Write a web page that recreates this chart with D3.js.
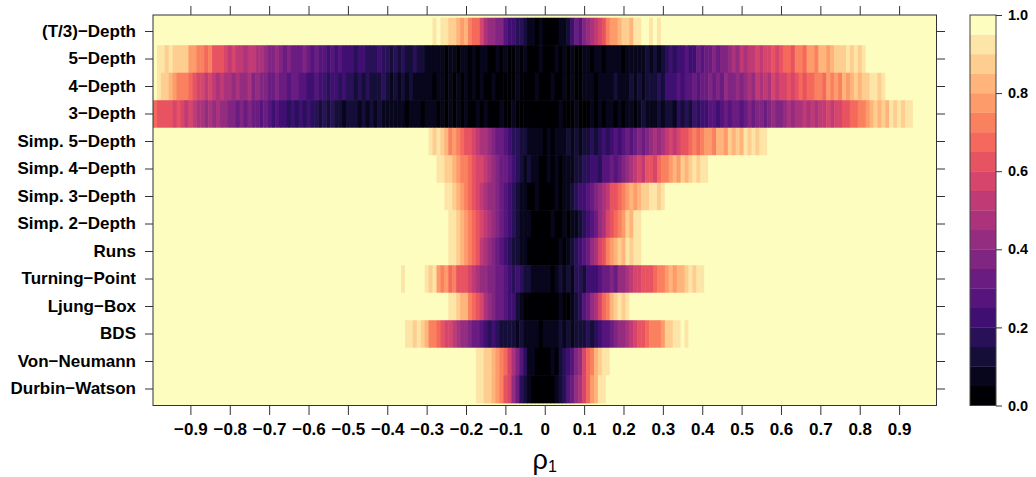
<!DOCTYPE html>
<html>
<head>
<meta charset="utf-8">
<script src="https://cdn.jsdelivr.net/npm/d3@7"></script>
<style>
  body { margin: 0; background: #fff; }
  svg text { font-family: 'Liberation Sans', Arial, Helvetica, sans-serif; }
</style>
</head>
<body>
<div id="chart"></div>
<script>
// row labels, top to bottom
const tests = [
    '(T/3)\u2212Depth', '5\u2212Depth', '4\u2212Depth', '3\u2212Depth',
    'Simp. 5\u2212Depth', 'Simp. 4\u2212Depth', 'Simp. 3\u2212Depth', 'Simp. 2\u2212Depth',
    'Runs', 'Turning\u2212Point', 'Ljung\u2212Box', 'BDS', 'Von\u2212Neumann', 'Durbin\u2212Watson'
]
// rho_1 grid: -0.99 .. 0.99 by 0.01
const rho = d3.range(-99, 100).map(i => i / 100)
const xTicks = [-0.9, -0.8, -0.7, -0.6, -0.5, -0.4, -0.3, -0.2, -0.1, 0, 0.1, 0.2, 0.3, 0.4, 0.5, 0.6, 0.7, 0.8, 0.9]
const legendTicks = [0, 0.2, 0.4, 0.6, 0.8, 1]

// one line per 0.1 of rho (-0.99..-0.90, ..., -0.09..0.00, 0.01..0.10, ..., 0.91..0.99)
const tDepth = [
    1, 1, 1, 1, 1, 1, 1, 1, 1, 1,
    1, 1, 1, 1, 1, 1, 1, 1, 1, 1,
    1, 1, 1, 1, 1, 1, 1, 1, 1, 1,
    1, 1, 1, 1, 1, 1, 1, 1, 1, 1,
    1, 1, 1, 1, 1, 1, 1, 1, 1, 1,
    1, 1, 1, 1, 1, 1, 1, 1, 1, 1,
    1, 1, 1, 1, 1, 1, 1, 1, 1, 1,
    1, .93, .97, .9, .92, .87, .85, .82, .76, .8,
    .7, .66, .67, .55, .46, .4, .42, .35, .36, .29,
    .22, .24, .17, .19, .11, .07, .05, .03, .05, .02,
    .03, .04, .02, .06, .08, .13, .24, .3, .28, .36,
    .4, .45, .52, .56, .63, .7, .76, .78, .81, .86,
    .88, .82, .9, .92, .97, .97, .9, .97, .93, 1,
    1, 1, 1, 1, 1, 1, 1, 1, 1, 1,
    1, 1, 1, 1, 1, 1, 1, 1, 1, 1,
    1, 1, 1, 1, 1, 1, 1, 1, 1, 1,
    1, 1, 1, 1, 1, 1, 1, 1, 1, 1,
    1, 1, 1, 1, 1, 1, 1, 1, 1, 1,
    1, 1, 1, 1, 1, 1, 1, 1, 1, 1,
    1, 1, 1, 1, 1, 1, 1, 1, 1
]
const depth5 = [
    1, .91, .9, .88, .9, .87, .86, .88, .85, .79,
    .78, .72, .7, .68, .71, .63, .6, .62, .55, .53,
    .55, .5, .52, .48, .53, .5, .45, .47, .42, .38,
    .36, .4, .35, .33, .38, .32, .34, .3, .36, .31,
    .28, .3, .25, .27, .22, .29, .24, .26, .2, .23,
    .21, .18, .24, .2, .17, .19, .15, .2, .16, .18,
    .14, .16, .12, .17, .13, .1, .15, .11, .12, .08,
    .06, .09, .05, .07, .04, .08, .06, .03, .05, .07,
    .04, .06, .03, .05, .08, .04, .02, .06, .03, .05,
    .04, .02, .05, .03, .06, .02, .04, .03, .05, .02,
    .04, .03, .06, .02, .05, .03, .07, .04, .03, .05,
    .06, .04, .08, .05, .03, .07, .05, .09, .06, .04,
    .06, .08, .05, .09, .07, .1, .08, .11, .09, .13,
    .18, .2, .16, .22, .2, .25, .21, .24, .3, .28,
    .33, .3, .36, .32, .38, .35, .4, .46, .43, .5,
    .48, .53, .5, .56, .52, .58, .55, .6, .57, .62,
    .66, .68, .64, .7, .72, .67, .76, .78, .74, .8,
    .82, .79, .84, .86, .88, .85, .9, .87, .91, .89,
    .93, .97, 1, 1, 1, 1, 1, 1, 1, 1,
    1, 1, 1, 1, 1, 1, 1, 1, 1
]
const depth4 = [
    1, .9, .88, .86, .82, .78, .74, .7, .72, .66,
    .6, .58, .55, .52, .56, .5, .48, .53, .45, .47,
    .44, .48, .42, .4, .45, .38, .41, .36, .39, .34,
    .32, .35, .3, .33, .28, .31, .3, .26, .29, .24,
    .22, .25, .2, .23, .18, .22, .2, .17, .21, .16,
    .18, .14, .17, .13, .16, .11, .14, .12, .15, .1,
    .09, .12, .08, .11, .06, .1, .07, .09, .05, .08,
    .06, .04, .08, .05, .03, .07, .04, .06, .03, .05,
    .03, .05, .02, .06, .04, .02, .05, .03, .04, .02,
    .04, .03, .05, .02, .04, .03, .02, .05, .03, .04,
    .02, .05, .03, .04, .06, .03, .05, .02, .04, .07,
    .05, .08, .04, .06, .09, .05, .07, .1, .06, .08,
    .08, .11, .07, .12, .09, .14, .1, .13, .16, .12,
    .2, .24, .21, .27, .23, .29, .26, .31, .28, .33,
    .3, .35, .32, .37, .34, .4, .36, .39, .42, .38,
    .44, .47, .43, .5, .46, .53, .49, .55, .52, .57,
    .55, .6, .58, .63, .66, .62, .68, .65, .7, .72,
    .68, .75, .72, .78, .74, .8, .77, .83, .86, .82,
    .88, .85, .9, .92, .89, .93, 1, 1, 1, 1,
    1, 1, 1, 1, 1, 1, 1, 1, 1
]
const depth3 = [
    .66, .62, .64, .6, .63, .58, .61, .56, .52, .55,
    .5, .46, .49, .44, .47, .42, .45, .4, .43, .39,
    .37, .34, .38, .32, .35, .3, .33, .28, .31, .26,
    .22, .26, .2, .24, .18, .22, .19, .22, .17, .2,
    .15, .18, .13, .17, .11, .15, .1, .14, .09, .12,
    .11, .14, .09, .13, .07, .12, .08, .1, .06, .09,
    .08, .05, .09, .06, .04, .08, .05, .07, .03, .06,
    .05, .08, .03, .06, .04, .07, .03, .05, .02, .06,
    .04, .02, .05, .03, .06, .02, .04, .03, .05, .02,
    .03, .05, .02, .04, .03, .02, .04, .03, .02, .03,
    .04, .02, .03, .05, .02, .04, .03, .05, .02, .04,
    .03, .06, .04, .07, .03, .05, .08, .04, .06, .03,
    .05, .08, .04, .07, .1, .06, .09, .05, .11, .08,
    .1, .14, .09, .15, .12, .17, .13, .2, .16, .24,
    .21, .26, .29, .23, .27, .31, .25, .3, .33, .28,
    .32, .36, .3, .35, .38, .33, .37, .4, .36, .39,
    .43, .46, .42, .48, .45, .5, .47, .52, .49, .54,
    .51, .56, .53, .58, .55, .6, .64, .67, .65, .7,
    .72, .78, .82, .85, .8, .87, .84, .9, .88, .92,
    .89, .93, .9, 1, 1, 1, 1, 1, 1
]
const simp5 = [
    1, 1, 1, 1, 1, 1, 1, 1, 1, 1,
    1, 1, 1, 1, 1, 1, 1, 1, 1, 1,
    1, 1, 1, 1, 1, 1, 1, 1, 1, 1,
    1, 1, 1, 1, 1, 1, 1, 1, 1, 1,
    1, 1, 1, 1, 1, 1, 1, 1, 1, 1,
    1, 1, 1, 1, 1, 1, 1, 1, 1, 1,
    1, 1, 1, 1, 1, 1, 1, 1, 1, 1,
    .92, .88, .93, .85, .8, .74, .78, .7, .66, .62,
    .6, .55, .52, .48, .45, .4, .36, .33, .3, .27,
    .2, .15, .18, .1, .12, .08, .06, .09, .05, .04,
    .06, .03, .07, .05, .08, .1, .06, .12, .09, .14,
    .11, .16, .13, .18, .2, .17, .23, .26, .21, .28,
    .3, .27, .33, .36, .31, .38, .42, .45, .4, .48,
    .52, .55, .5, .58, .62, .6, .65, .7, .67, .72,
    .75, .78, .74, .8, .83, .79, .85, .82, .88, .84,
    .9, .87, .92, .89, .93, .91, .97, 1, 1, 1,
    1, 1, 1, 1, 1, 1, 1, 1, 1, 1,
    1, 1, 1, 1, 1, 1, 1, 1, 1, 1,
    1, 1, 1, 1, 1, 1, 1, 1, 1, 1,
    1, 1, 1, 1, 1, 1, 1, 1, 1
]
const simp4 = [
    1, 1, 1, 1, 1, 1, 1, 1, 1, 1,
    1, 1, 1, 1, 1, 1, 1, 1, 1, 1,
    1, 1, 1, 1, 1, 1, 1, 1, 1, 1,
    1, 1, 1, 1, 1, 1, 1, 1, 1, 1,
    1, 1, 1, 1, 1, 1, 1, 1, 1, 1,
    1, 1, 1, 1, 1, 1, 1, 1, 1, 1,
    1, 1, 1, 1, 1, 1, 1, 1, 1, 1,
    1, 1, .93, .9, .88, .85, .82, .76, .72, .7,
    .66, .62, .58, .55, .5, .46, .42, .38, .34, .3,
    .27, .22, .17, .12, .08, .1, .05, .07, .04, .03,
    .05, .04, .06, .03, .07, .05, .08, .12, .1, .15,
    .18, .2, .22, .19, .25, .27, .3, .28, .33, .38,
    .42, .46, .5, .55, .52, .6, .63, .58, .66, .7,
    .73, .78, .8, .76, .85, .82, .88, .9, .87, .92,
    .93, .97, 1, 1, 1, 1, 1, 1, 1, 1,
    1, 1, 1, 1, 1, 1, 1, 1, 1, 1,
    1, 1, 1, 1, 1, 1, 1, 1, 1, 1,
    1, 1, 1, 1, 1, 1, 1, 1, 1, 1,
    1, 1, 1, 1, 1, 1, 1, 1, 1, 1,
    1, 1, 1, 1, 1, 1, 1, 1, 1
]
const simp3 = [
    1, 1, 1, 1, 1, 1, 1, 1, 1, 1,
    1, 1, 1, 1, 1, 1, 1, 1, 1, 1,
    1, 1, 1, 1, 1, 1, 1, 1, 1, 1,
    1, 1, 1, 1, 1, 1, 1, 1, 1, 1,
    1, 1, 1, 1, 1, 1, 1, 1, 1, 1,
    1, 1, 1, 1, 1, 1, 1, 1, 1, 1,
    1, 1, 1, 1, 1, 1, 1, 1, 1, 1,
    1, 1, 1, 1, .93, .9, .85, .8, .75, .72,
    .68, .62, .57, .52, .48, .44, .4, .35, .3, .26,
    .22, .16, .12, .08, .06, .04, .03, .05, .02, .03,
    .04, .02, .05, .03, .06, .09, .12, .16, .2, .24,
    .28, .32, .36, .42, .48, .54, .6, .64, .68, .72,
    .76, .8, .78, .84, .88, .86, .9, .92, .89, .93,
    .97, 1, 1, 1, 1, 1, 1, 1, 1, 1,
    1, 1, 1, 1, 1, 1, 1, 1, 1, 1,
    1, 1, 1, 1, 1, 1, 1, 1, 1, 1,
    1, 1, 1, 1, 1, 1, 1, 1, 1, 1,
    1, 1, 1, 1, 1, 1, 1, 1, 1, 1,
    1, 1, 1, 1, 1, 1, 1, 1, 1, 1,
    1, 1, 1, 1, 1, 1, 1, 1, 1
]
const simp2 = [
    1, 1, 1, 1, 1, 1, 1, 1, 1, 1,
    1, 1, 1, 1, 1, 1, 1, 1, 1, 1,
    1, 1, 1, 1, 1, 1, 1, 1, 1, 1,
    1, 1, 1, 1, 1, 1, 1, 1, 1, 1,
    1, 1, 1, 1, 1, 1, 1, 1, 1, 1,
    1, 1, 1, 1, 1, 1, 1, 1, 1, 1,
    1, 1, 1, 1, 1, 1, 1, 1, 1, 1,
    1, 1, 1, 1, 1, .93, .9, .87, .82, .78,
    .72, .68, .62, .56, .52, .46, .42, .36, .32, .26,
    .2, .15, .1, .07, .05, .08, .04, .03, .02, .04,
    .03, .05, .02, .04, .06, .03, .05, .08, .12, .16,
    .22, .28, .34, .4, .48, .56, .62, .68, .72, .78,
    .85, .82, .9, .93, 1, 1, 1, 1, 1, 1,
    1, 1, 1, 1, 1, 1, 1, 1, 1, 1,
    1, 1, 1, 1, 1, 1, 1, 1, 1, 1,
    1, 1, 1, 1, 1, 1, 1, 1, 1, 1,
    1, 1, 1, 1, 1, 1, 1, 1, 1, 1,
    1, 1, 1, 1, 1, 1, 1, 1, 1, 1,
    1, 1, 1, 1, 1, 1, 1, 1, 1, 1,
    1, 1, 1, 1, 1, 1, 1, 1, 1
]
const runs = [
    1, 1, 1, 1, 1, 1, 1, 1, 1, 1,
    1, 1, 1, 1, 1, 1, 1, 1, 1, 1,
    1, 1, 1, 1, 1, 1, 1, 1, 1, 1,
    1, 1, 1, 1, 1, 1, 1, 1, 1, 1,
    1, 1, 1, 1, 1, 1, 1, 1, 1, 1,
    1, 1, 1, 1, 1, 1, 1, 1, 1, 1,
    1, 1, 1, 1, 1, 1, 1, 1, 1, 1,
    1, 1, 1, 1, 1, .93, .9, .86, .8, .76,
    .7, .65, .6, .54, .48, .42, .38, .33, .28, .24,
    .19, .14, .1, .07, .05, .03, .04, .02, .03, .02,
    .03, .04, .02, .05, .03, .06, .1, .15, .2, .27,
    .33, .4, .48, .55, .62, .7, .75, .8, .86, .84,
    .9, .88, .93, .92, 1, 1, 1, 1, 1, 1,
    1, 1, 1, 1, 1, 1, 1, 1, 1, 1,
    1, 1, 1, 1, 1, 1, 1, 1, 1, 1,
    1, 1, 1, 1, 1, 1, 1, 1, 1, 1,
    1, 1, 1, 1, 1, 1, 1, 1, 1, 1,
    1, 1, 1, 1, 1, 1, 1, 1, 1, 1,
    1, 1, 1, 1, 1, 1, 1, 1, 1, 1,
    1, 1, 1, 1, 1, 1, 1, 1, 1
]
const turningPoint = [
    1, 1, 1, 1, 1, 1, 1, 1, 1, 1,
    1, 1, 1, 1, 1, 1, 1, 1, 1, 1,
    1, 1, 1, 1, 1, 1, 1, 1, 1, 1,
    1, 1, 1, 1, 1, 1, 1, 1, 1, 1,
    1, 1, 1, 1, 1, 1, 1, 1, 1, 1,
    1, 1, 1, 1, 1, 1, 1, 1, 1, 1,
    1, 1, 1, .93, 1, 1, 1, 1, 1, .92,
    .88, .9, .78, .72, .75, .68, .7, .64, .6, .62,
    .55, .52, .48, .44, .4, .36, .38, .32, .3, .26,
    .22, .18, .2, .15, .12, .1, .08, .06, .09, .05,
    .07, .04, .08, .1, .06, .12, .09, .15, .18, .14,
    .2, .24, .22, .28, .3, .33, .36, .32, .4, .44,
    .48, .5, .55, .58, .6, .64, .62, .68, .7, .74,
    .78, .8, .76, .84, .82, .87, .9, .88, .92, .93,
    .97, 1, 1, 1, 1, 1, 1, 1, 1, 1,
    1, 1, 1, 1, 1, 1, 1, 1, 1, 1,
    1, 1, 1, 1, 1, 1, 1, 1, 1, 1,
    1, 1, 1, 1, 1, 1, 1, 1, 1, 1,
    1, 1, 1, 1, 1, 1, 1, 1, 1, 1,
    1, 1, 1, 1, 1, 1, 1, 1, 1
]
const ljungBox = [
    1, 1, 1, 1, 1, 1, 1, 1, 1, 1,
    1, 1, 1, 1, 1, 1, 1, 1, 1, 1,
    1, 1, 1, 1, 1, 1, 1, 1, 1, 1,
    1, 1, 1, 1, 1, 1, 1, 1, 1, 1,
    1, 1, 1, 1, 1, 1, 1, 1, 1, 1,
    1, 1, 1, 1, 1, 1, 1, 1, 1, 1,
    1, 1, 1, 1, 1, 1, 1, 1, 1, 1,
    1, 1, 1, 1, 1, .93, .9, .87, .84, .8,
    .74, .68, .62, .55, .48, .42, .38, .34, .3, .27,
    .24, .2, .12, .06, .04, .03, .02, .04, .02, .03,
    .02, .04, .03, .05, .02, .04, .06, .1, .18, .25,
    .32, .4, .48, .56, .66, .72, .8, .85, .9, .88,
    .93, 1, 1, 1, 1, 1, 1, 1, 1, 1,
    1, 1, 1, 1, 1, 1, 1, 1, 1, 1,
    1, 1, 1, 1, 1, 1, 1, 1, 1, 1,
    1, 1, 1, 1, 1, 1, 1, 1, 1, 1,
    1, 1, 1, 1, 1, 1, 1, 1, 1, 1,
    1, 1, 1, 1, 1, 1, 1, 1, 1, 1,
    1, 1, 1, 1, 1, 1, 1, 1, 1, 1,
    1, 1, 1, 1, 1, 1, 1, 1, 1
]
const bds = [
    1, 1, 1, 1, 1, 1, 1, 1, 1, 1,
    1, 1, 1, 1, 1, 1, 1, 1, 1, 1,
    1, 1, 1, 1, 1, 1, 1, 1, 1, 1,
    1, 1, 1, 1, 1, 1, 1, 1, 1, 1,
    1, 1, 1, 1, 1, 1, 1, 1, 1, 1,
    1, 1, 1, 1, 1, 1, 1, 1, 1, 1,
    1, 1, 1, 1, .93, .9, .88, .92, .85, .8,
    .74, .7, .66, .62, .58, .55, .5, .47, .44, .4,
    .36, .33, .3, .26, .22, .19, .2, .16, .14, .12,
    .1, .13, .08, .11, .06, .09, .05, .07, .04, .06,
    .05, .08, .06, .1, .07, .12, .09, .11, .14, .1,
    .16, .13, .18, .22, .25, .28, .32, .36, .4, .44,
    .48, .52, .56, .6, .64, .67, .7, .74, .72, .78,
    .85, .88, .9, .93, .97, .92, 1, 1, 1, 1,
    1, 1, 1, 1, 1, 1, 1, 1, 1, 1,
    1, 1, 1, 1, 1, 1, 1, 1, 1, 1,
    1, 1, 1, 1, 1, 1, 1, 1, 1, 1,
    1, 1, 1, 1, 1, 1, 1, 1, 1, 1,
    1, 1, 1, 1, 1, 1, 1, 1, 1, 1,
    1, 1, 1, 1, 1, 1, 1, 1, 1
]
const vonNeumann = [
    1, 1, 1, 1, 1, 1, 1, 1, 1, 1,
    1, 1, 1, 1, 1, 1, 1, 1, 1, 1,
    1, 1, 1, 1, 1, 1, 1, 1, 1, 1,
    1, 1, 1, 1, 1, 1, 1, 1, 1, 1,
    1, 1, 1, 1, 1, 1, 1, 1, 1, 1,
    1, 1, 1, 1, 1, 1, 1, 1, 1, 1,
    1, 1, 1, 1, 1, 1, 1, 1, 1, 1,
    1, 1, 1, 1, 1, 1, 1, 1, 1, 1,
    1, 1, .93, .9, .88, .85, .82, .78, .72, .66,
    .58, .45, .35, .25, .15, .08, .05, .03, .02, .03,
    .03, .05, .04, .1, .16, .22, .28, .35, .42, .55,
    .65, .74, .82, .88, .9, .93, .97, 1, 1, 1,
    1, 1, 1, 1, 1, 1, 1, 1, 1, 1,
    1, 1, 1, 1, 1, 1, 1, 1, 1, 1,
    1, 1, 1, 1, 1, 1, 1, 1, 1, 1,
    1, 1, 1, 1, 1, 1, 1, 1, 1, 1,
    1, 1, 1, 1, 1, 1, 1, 1, 1, 1,
    1, 1, 1, 1, 1, 1, 1, 1, 1, 1,
    1, 1, 1, 1, 1, 1, 1, 1, 1, 1,
    1, 1, 1, 1, 1, 1, 1, 1, 1
]
const durbinWatson = [
    1, 1, 1, 1, 1, 1, 1, 1, 1, 1,
    1, 1, 1, 1, 1, 1, 1, 1, 1, 1,
    1, 1, 1, 1, 1, 1, 1, 1, 1, 1,
    1, 1, 1, 1, 1, 1, 1, 1, 1, 1,
    1, 1, 1, 1, 1, 1, 1, 1, 1, 1,
    1, 1, 1, 1, 1, 1, 1, 1, 1, 1,
    1, 1, 1, 1, 1, 1, 1, 1, 1, 1,
    1, 1, 1, 1, 1, 1, 1, 1, 1, 1,
    1, 1, .93, .92, .88, .86, .8, .75, .7, .64,
    .55, .44, .32, .18, .1, .05, .03, .02, .02, .01,
    .02, .04, .07, .12, .18, .25, .32, .4, .48, .58,
    .68, .78, .84, .9, .92, .96, 1, 1, 1, 1,
    1, 1, 1, 1, 1, 1, 1, 1, 1, 1,
    1, 1, 1, 1, 1, 1, 1, 1, 1, 1,
    1, 1, 1, 1, 1, 1, 1, 1, 1, 1,
    1, 1, 1, 1, 1, 1, 1, 1, 1, 1,
    1, 1, 1, 1, 1, 1, 1, 1, 1, 1,
    1, 1, 1, 1, 1, 1, 1, 1, 1, 1,
    1, 1, 1, 1, 1, 1, 1, 1, 1, 1,
    1, 1, 1, 1, 1, 1, 1, 1, 1
]

const rows = [tDepth, depth5, depth4, depth3, simp5, simp4, simp3, simp2,
    runs, turningPoint, ljungBox, bds, vonNeumann, durbinWatson]
rows.forEach((r, i) => { if (r.length !== rho.length) console.log('bad row length', tests[i], r.length) })

const width = 1036
const height = 477
const plot = { left: 153, right: 936.5, top: 15, bottom: 405.5 }

// 20 levels of magma, 0.05 wide
const nLevels = 20
const palette = d3.range(nLevels).map(i => d3.interpolateMagma(i / (nLevels - 1)))
const color = d3.scaleQuantize().domain([0, 1]).range(palette)

const x = d3.scaleLinear().domain([-0.995, 0.995]).range([plot.left, plot.right])
const y = d3.scaleBand().domain(tests).range([plot.top, plot.bottom])
    .paddingInner(0).paddingOuter(0.1)

const svg = d3.select('#chart').append('svg')
    .attr('width', width)
    .attr('height', height)

svg.append('rect')
    .attr('x', plot.left).attr('y', plot.top)
    .attr('width', plot.right - plot.left).attr('height', plot.bottom - plot.top)
    .attr('fill', color(1))

const cellW = x(0.01) - x(0)
const cells = rows.flatMap((r, ri) => r.map((v, i) => ({ test: tests[ri], rho: rho[i], p: v })))

// cells overlap a little so no seams show between them
svg.append('g')
    .selectAll('rect')
    .data(cells)
    .enter()
    .append('rect')
    .attr('x', d => x(d.rho) - cellW / 2)
    .attr('y', d => y(d.test))
    .attr('width', cellW + 0.5)
    .attr('height', y.bandwidth() + 0.6)
    .attr('fill', d => color(d.p))

const fmt = d => d === 0 ? '0' : d3.format('.1f')(d)

function styleAxis(g, size) {
    g.attr('font-family', null).attr('font-size', size).attr('font-weight', 'bold').attr('color', '#333')
    g.select('.domain').remove()
    g.selectAll('text').attr('fill', '#000')
}

svg.append('g')
    .attr('transform', `translate(0,${plot.bottom})`)
    .call(d3.axisBottom(x).tickValues(xTicks).tickFormat(fmt).tickSize(9.5).tickPadding(8))
    .call(g => styleAxis(g, 17))

svg.append('g')
    .attr('transform', `translate(0,${plot.top})`)
    .call(d3.axisTop(x).tickValues(xTicks).tickFormat('').tickSize(9))
    .call(g => styleAxis(g, 17))

svg.append('g')
    .attr('transform', `translate(${plot.left},0)`)
    .call(d3.axisLeft(y).tickSize(8).tickPadding(9))
    .call(g => styleAxis(g, 17))

svg.append('g')
    .attr('transform', `translate(${plot.right},0)`)
    .call(d3.axisRight(y).tickSize(8.5).tickFormat(''))
    .call(g => styleAxis(g, 17))

svg.append('rect')
    .attr('x', plot.left).attr('y', plot.top)
    .attr('width', plot.right - plot.left).attr('height', plot.bottom - plot.top)
    .attr('fill', 'none')
    .attr('stroke', '#333')

// x axis title: rho with subscript 1
const title = svg.append('text')
    .attr('x', (plot.left + plot.right) / 2)
    .attr('y', 469)
    .attr('text-anchor', 'middle')
    .attr('font-size', 27)
title.append('tspan').text('\u03C1')
title.append('tspan').attr('font-size', 16).attr('dy', 3).text('1')

// colour key
const key = { left: 970, right: 996 }
const ky = d3.scaleLinear().domain([0, 1]).range([plot.bottom, plot.top])
const levels = palette.map((c, i) => ({ lo: i / nLevels, hi: (i + 1) / nLevels, c }))

svg.append('g')
    .selectAll('rect')
    .data(levels)
    .enter()
    .append('rect')
    .attr('x', key.left)
    .attr('y', d => ky(d.hi))
    .attr('width', key.right - key.left)
    .attr('height', d => ky(d.lo) - ky(d.hi) + 0.3)
    .attr('fill', d => d.c)

svg.append('rect')
    .attr('x', key.left).attr('y', plot.top)
    .attr('width', key.right - key.left).attr('height', plot.bottom - plot.top)
    .attr('fill', 'none')
    .attr('stroke', '#444')

svg.append('g')
    .attr('transform', `translate(${key.right},0)`)
    .call(d3.axisRight(ky).tickValues(legendTicks).tickFormat(d3.format('.1f')).tickSize(6).tickPadding(6))
    .call(g => styleAxis(g, 14.5))
</script>
</body>
</html>
